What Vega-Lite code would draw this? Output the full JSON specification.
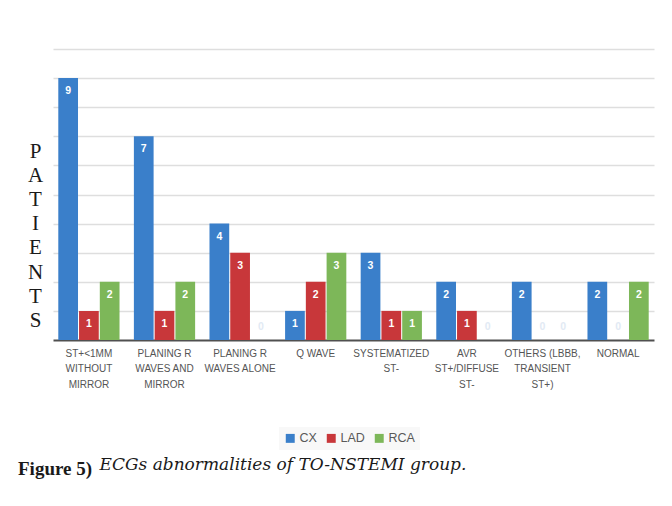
{
  "$schema": "https://vega.github.io/schema/vega-lite/v6.json",
  "width": 601,
  "height": 291,
  "autosize": {"type": "none"},
  "padding": {"left": 53, "top": 49, "right": 18, "bottom": 166},
  "background": "white",
  "config": {"view": {"stroke": null}, "font": "Liberation Sans"},
  "title": {
    "text": "Figure 5)",
    "orient": "bottom",
    "anchor": "start",
    "frame": "group",
    "font": "Liberation Serif",
    "fontSize": 19,
    "fontWeight": "bold",
    "color": "#1a1a1a",
    "dx": -35,
    "dy": -16
  },
  "data": {
    "values": [
      {"category": "ST+<1MM WITHOUT MIRROR", "artery": "CX", "patients": 9},
      {"category": "ST+<1MM WITHOUT MIRROR", "artery": "LAD", "patients": 1},
      {"category": "ST+<1MM WITHOUT MIRROR", "artery": "RCA", "patients": 2},
      {"category": "PLANING R WAVES AND MIRROR", "artery": "CX", "patients": 7},
      {"category": "PLANING R WAVES AND MIRROR", "artery": "LAD", "patients": 1},
      {"category": "PLANING R WAVES AND MIRROR", "artery": "RCA", "patients": 2},
      {"category": "PLANING R WAVES ALONE", "artery": "CX", "patients": 4},
      {"category": "PLANING R WAVES ALONE", "artery": "LAD", "patients": 3},
      {"category": "PLANING R WAVES ALONE", "artery": "RCA", "patients": 0},
      {"category": "Q WAVE", "artery": "CX", "patients": 1},
      {"category": "Q WAVE", "artery": "LAD", "patients": 2},
      {"category": "Q WAVE", "artery": "RCA", "patients": 3},
      {"category": "SYSTEMATIZED ST-", "artery": "CX", "patients": 3},
      {"category": "SYSTEMATIZED ST-", "artery": "LAD", "patients": 1},
      {"category": "SYSTEMATIZED ST-", "artery": "RCA", "patients": 1},
      {"category": "AVR ST+/DIFFUSE ST-", "artery": "CX", "patients": 2},
      {"category": "AVR ST+/DIFFUSE ST-", "artery": "LAD", "patients": 1},
      {"category": "AVR ST+/DIFFUSE ST-", "artery": "RCA", "patients": 0},
      {"category": "OTHERS (LBBB, TRANSIENT ST+)", "artery": "CX", "patients": 2},
      {"category": "OTHERS (LBBB, TRANSIENT ST+)", "artery": "LAD", "patients": 0},
      {"category": "OTHERS (LBBB, TRANSIENT ST+)", "artery": "RCA", "patients": 0},
      {"category": "NORMAL", "artery": "CX", "patients": 2},
      {"category": "NORMAL", "artery": "LAD", "patients": 0},
      {"category": "NORMAL", "artery": "RCA", "patients": 2}
    ]
  },
  "encoding": {
    "x": {
      "field": "category",
      "type": "nominal",
      "sort": null,
      "scale": {"paddingInner": 0.19, "paddingOuter": 0.07},
      "axis": {
        "title": "ECGs abnormalities of TO-NSTEMI group.",
        "titleFont": "DejaVu Serif",
        "titleFontStyle": "italic",
        "titleFontWeight": "normal",
        "titleFontSize": 17,
        "titleColor": "#1a1a1a",
        "titleX": 46,
        "titleY": 129,
        "titleAlign": "left",
        "titleBaseline": "alphabetic",
        "labelAngle": 0,
        "labelFont": "Liberation Sans",
        "labelFontSize": 10,
        "labelColor": "#555555",
        "labelLineHeight": 15.5,
        "labelPadding": 8,
        "labelBaseline": "top",
        "ticks": false,
        "domainColor": "#505050",
        "domainWidth": 2,
        "labelExpr": "{'ST+<1MM WITHOUT MIRROR': ['ST+<1MM', 'WITHOUT', 'MIRROR'], 'PLANING R WAVES AND MIRROR': ['PLANING R', 'WAVES AND', 'MIRROR'], 'PLANING R WAVES ALONE': ['PLANING R', 'WAVES ALONE'], 'Q WAVE': ['Q WAVE'], 'SYSTEMATIZED ST-': ['SYSTEMATIZED', 'ST-'], 'AVR ST+/DIFFUSE ST-': ['AVR', 'ST+/DIFFUSE', 'ST-'], 'OTHERS (LBBB, TRANSIENT ST+)': ['OTHERS (LBBB,', 'TRANSIENT', 'ST+)'], 'NORMAL': ['NORMAL']}[datum.label]"
      }
    },
    "xOffset": {"field": "artery", "type": "nominal", "scale": {"paddingInner": 0.05}},
    "y": {
      "field": "patients",
      "type": "quantitative",
      "scale": {"domain": [0, 10]},
      "axis": {
        "title": ["P", "A", "T", "I", "E", "N", "T", "S"],
        "titleAngle": 0,
        "titleFont": "Liberation Serif",
        "titleFontSize": 21,
        "titleFontWeight": "normal",
        "titleColor": "#1a1a1a",
        "titleLineHeight": 24.2,
        "titleX": -18,
        "titleY": 102,
        "titleAlign": "center",
        "titleBaseline": "middle",
        "labels": false,
        "ticks": false,
        "domain": false,
        "values": [1, 2, 3, 4, 5, 6, 7, 8, 9, 10],
        "gridColor": "#dedede",
        "gridWidth": 1.5
      }
    }
  },
  "layer": [
    {
      "mark": {"type": "bar"},
      "encoding": {
        "color": {
          "field": "artery",
          "type": "nominal",
          "scale": {"domain": ["CX", "LAD", "RCA"], "range": ["#3a7fca", "#c8373a", "#7db759"]},
          "legend": {
            "orient": "none",
            "legendX": 226,
            "legendY": 378,
            "direction": "horizontal",
            "title": null,
            "symbolType": "square",
            "symbolSize": 80,
            "symbolStrokeWidth": 0,
            "labelFont": "Liberation Sans",
            "labelFontSize": 12.5,
            "labelColor": "#595959",
            "fillColor": "#f8f8f8",
            "padding": 5,
            "columnPadding": 8,
            "labelOffset": 3
          }
        }
      }
    },
    {
      "transform": [{"filter": "datum.patients > 0"}],
      "mark": {"type": "text", "baseline": "middle", "dy": 13, "fontWeight": "bold", "fontSize": 10.5, "font": "Liberation Sans", "color": "white"},
      "encoding": {"text": {"field": "patients", "type": "quantitative"}}
    },
    {
      "transform": [{"filter": "datum.patients == 0"}],
      "mark": {"type": "text", "baseline": "middle", "dy": -13, "fontWeight": "bold", "fontSize": 10.5, "font": "Liberation Sans", "color": "#e2eaf4"},
      "encoding": {"text": {"field": "patients", "type": "quantitative"}}
    }
  ]
}
